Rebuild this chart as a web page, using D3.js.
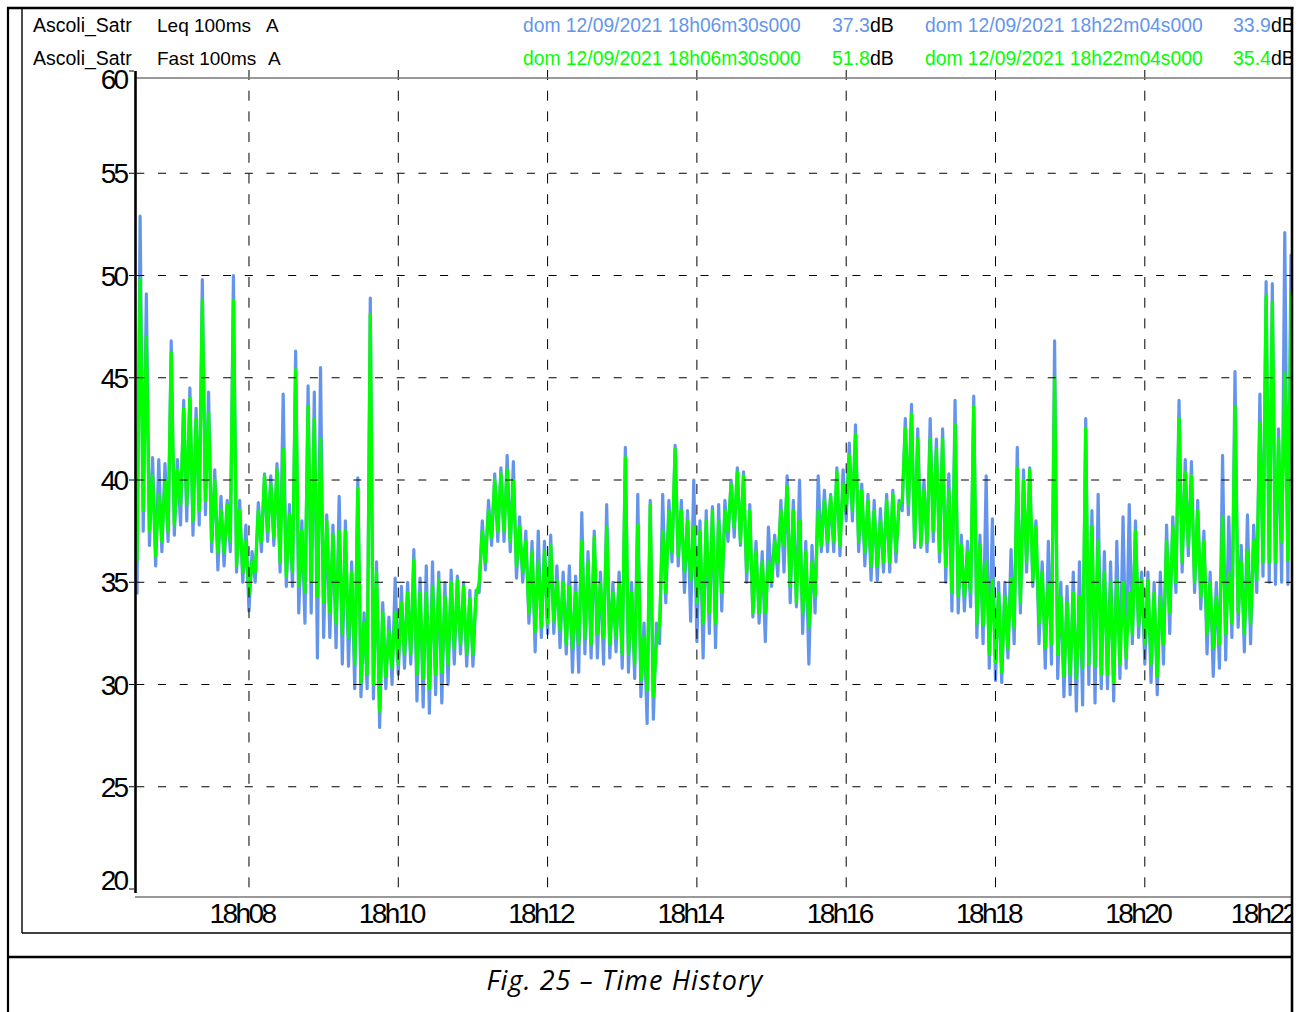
<!DOCTYPE html>
<html>
<head>
<meta charset="utf-8">
<script src="https://cdn.jsdelivr.net/npm/d3@7"></script>
<style>
html, body { margin: 0; padding: 0; background: #fff; }
svg { display: block; }
text { font-family: "Liberation Sans", Arial, sans-serif; }
</style>
</head>
<body>
<div id="chart"></div>
<script>
var width = 1302,
	height = 1012;

// time axis
var startTime = new Date(2021, 8, 12, 18, 6, 30);
var endTime = new Date(2021, 8, 12, 18, 22, 4);
var stepSeconds = 5;
var xTickTimes = ["18:08", "18:10", "18:12", "18:14", "18:16", "18:18", "18:20", "18:22"];
var yTicks = [20, 25, 30, 35, 40, 45, 50, 55, 60];
var yGrid = [25, 30, 35, 40, 45, 50, 55];

// header
var stationName = "Ascoli_Satr";
var seriesNames = ["Leq 100ms", "Fast 100ms"];
var weighting = "A";
var seriesColors = ["#6495ed", "#00ff00"];
var startStamp = "dom 12/09/2021 18h06m30s000";
var endStamp = "dom 12/09/2021 18h22m04s000";
var startValues = ["37.3", "51.8"];
var endValues = ["33.9", "35.4"];
var caption = "Fig. 25 \u2013 Time History";

// envelope of each series per 5 s bin (min, max), dB
var leqLo = [
34.4,37.5,36.8,35.8,36.5,37.0,37.3,37.8,38.0,37.3,
37.8,38.3,36.5,35.6,35.8,36.5,35.5,35.0,33.6,35.0,
36.5,37.0,36.8,35.5,34.8,34.8,33.5,33.0,33.5,31.3,
32.3,32.3,31.8,31.0,30.9,29.8,29.4,29.8,29.3,27.9,
29.8,30.0,30.5,30.8,31.0,29.2,28.9,28.6,29.5,29.1,
30.0,31.0,31.5,30.9,30.9,34.5,35.6,36.8,37.0,37.0,
36.5,35.2,35.0,33.0,31.6,32.3,32.5,32.5,31.8,31.5,
30.6,30.6,31.5,31.3,31.3,31.0,31.3,31.6,30.8,30.6,
30.3,29.4,28.1,28.3,32.0,34.0,36.0,35.8,34.5,33.1,
32.1,31.3,32.5,31.8,33.6,37.0,37.2,36.8,35.0,33.3,
33.0,32.1,34.8,35.3,35.5,34.0,33.8,32.5,31.0,33.5,
36.5,36.5,36.5,36.3,38.0,38.0,36.5,35.8,35.1,35.1,
35.5,35.5,36.0,38.5,38.3,36.7,36.7,36.5,37.0,36.0,
35.0,33.6,33.5,33.6,33.8,32.3,32.0,30.8,30.2,30.1,
31.3,32.0,33.5,35.5,34.8,32.0,30.8,31.0,30.3,29.4,
29.5,28.7,29.0,30.0,29.1,29.8,29.8,29.2,30.3,30.8,
32.0,32.3,31.0,30.1,29.5,31.0,32.5,34.5,35.5,36.3,
34.5,33.7,31.5,30.4,30.8,31.2,32.3,32.8,31.6,32.0,
34.5,35.3,35.0,34.9,35.0,34.9,36.0];
var leqHi = [
52.9,49.1,41.1,41.0,40.8,46.8,41.0,43.9,44.5,43.5,
49.8,44.3,40.5,39.2,39.0,50.0,39.0,37.8,36.5,38.9,
40.3,40.2,40.8,44.2,38.8,46.3,38.0,44.6,44.3,45.5,
38.3,37.8,39.2,38.0,36.0,40.1,33.5,48.9,36.0,34.0,
33.3,35.2,34.8,35.0,36.6,35.2,35.8,36.0,35.5,35.0,
35.6,35.3,35.0,34.6,34.6,38.0,39.0,40.3,40.6,41.2,
40.9,38.2,37.5,37.0,37.5,37.0,37.3,35.8,35.5,35.8,
35.3,38.4,36.5,37.5,35.5,38.8,35.0,35.5,41.6,35.0,
39.3,33.0,39.0,33.0,39.3,39.0,41.7,39.0,38.5,40.0,
38.0,38.5,38.7,38.8,39.0,40.0,40.6,40.4,38.8,37.0,
36.5,37.7,37.3,39.0,40.2,39.0,40.0,37.0,36.8,40.2,
39.5,39.3,40.6,40.5,41.8,42.7,39.8,39.3,39.0,38.6,
39.3,39.5,39.0,43.0,43.7,42.5,40.0,43.0,42.0,42.5,
40.3,43.9,37.3,37.0,44.1,37.3,40.2,38.1,35.0,35.0,
36.6,41.6,40.5,40.6,38.0,36.0,37.0,46.8,35.0,34.8,
35.5,36.0,43.0,38.5,39.3,36.5,36.0,37.0,38.2,38.8,
38.0,35.5,35.5,35.0,35.5,37.8,38.2,43.9,41.0,40.9,
39.0,37.5,35.5,35.0,41.2,38.2,45.3,36.8,38.3,37.8,
44.2,49.7,49.6,42.5,52.1,51.0,47.4];
var fastLo = [
36.0,38.5,37.5,36.3,37.0,37.5,37.8,38.8,38.8,38.0,
38.5,39.0,37.0,36.5,36.5,37.0,35.8,35.5,34.4,35.5,
37.0,37.5,37.2,36.0,35.3,35.5,34.8,34.5,35.0,34.3,
34.0,33.5,33.0,32.5,32.3,31.0,30.1,30.5,30.0,28.7,
30.4,30.8,31.0,31.5,31.5,30.5,30.3,29.8,30.5,30.6,
31.0,31.8,32.0,31.5,31.5,35.0,36.0,37.2,37.5,37.5,
37.0,35.8,35.5,33.5,32.6,32.8,33.0,33.1,32.7,32.0,
31.8,32.0,32.3,32.0,32.5,32.3,32.0,32.3,31.5,31.5,
31.0,30.2,29.7,29.4,33.0,34.5,36.5,36.3,35.5,35.1,
34.0,33.0,33.5,33.0,34.5,37.5,37.7,37.0,35.5,33.5,
33.5,33.5,35.0,36.0,36.8,34.8,34.0,33.5,32.8,34.3,
36.8,37.0,37.0,36.8,38.5,38.5,37.0,36.5,35.8,35.8,
36.0,36.0,36.5,39.0,38.8,37.0,36.8,37.0,37.5,36.5,
35.8,34.5,34.3,34.3,34.5,33.0,32.9,31.5,31.1,30.6,
31.8,32.8,34.0,36.0,35.1,33.0,31.8,32.0,31.5,30.4,
30.5,30.3,30.8,31.0,30.9,30.5,30.5,30.1,31.0,31.3,
32.5,32.9,32.0,31.0,30.4,32.0,33.5,35.0,36.0,36.8,
35.0,34.3,32.5,31.8,32.0,32.5,33.0,33.5,32.5,33.0,
35.1,36.0,36.0,36.0,37.0,36.1,37.0];
var fastHi = [
49.8,47.0,40.2,39.3,40.0,46.2,40.5,43.5,44.0,43.0,
48.8,43.3,40.0,38.5,38.8,48.8,38.5,37.0,36.0,38.5,
40.2,39.8,40.5,41.5,38.3,45.4,37.5,43.6,43.0,42.0,
38.0,37.3,37.5,37.5,35.5,39.6,33.0,48.1,35.5,33.5,
32.6,33.5,34.0,34.5,36.1,34.5,34.5,34.8,35.1,34.3,
35.0,35.1,34.8,34.2,34.3,37.5,38.5,40.0,40.3,40.5,
40.0,37.7,37.0,36.5,36.0,36.5,36.8,35.1,35.0,34.8,
34.5,37.0,36.0,37.2,35.0,37.7,34.5,35.0,41.1,34.5,
37.8,32.3,38.8,32.0,37.5,38.5,41.5,38.5,38.0,37.7,
37.5,38.0,38.5,38.0,38.5,39.8,40.4,40.2,38.5,36.5,
36.0,36.0,37.0,38.5,39.7,38.5,38.0,36.5,36.0,38.5,
39.0,39.2,40.4,39.8,41.2,42.2,39.5,39.0,38.5,38.0,
39.0,39.3,38.8,42.5,43.2,42.0,39.5,42.0,41.5,42.0,
39.5,42.7,36.8,36.5,43.6,36.8,36.0,35.1,34.5,34.3,
35.2,40.6,40.0,40.5,37.7,35.5,35.0,45.0,34.3,34.0,
34.5,34.3,42.5,37.7,37.0,35.5,35.0,35.1,35.0,34.5,
37.5,35.1,35.1,34.5,34.3,37.0,37.7,43.0,40.4,40.2,
38.5,37.0,35.0,34.3,38.2,35.5,43.6,36.0,36.5,37.0,
42.8,49.0,48.7,42.0,45.2,49.1,46.0];

var plotLeft = 137, plotRight = 1292, plotTop = 78, plotBottom = 897;

var svg = d3.select("#chart").append("svg")
	.attr("width", width)
	.attr("height", height);

svg.append("rect")
	.attr("width", width)
	.attr("height", height)
	.attr("fill", "#fff");

var x = d3.scaleTime()
	.domain([startTime, endTime])
	.range([plotLeft, plotLeft + (endTime - startTime) / 1000 * 1.2442]);
var y = d3.scaleLinear()
	.domain([20, 60])
	.range([889, 71]);

var parseHM = d3.timeParse("%Y-%m-%d %H:%M");
var xTicks = xTickTimes.map(function(s) { return parseHM("2021-09-12 " + s); });
var fmt = d3.timeFormat("%Hh%M");

svg.append("clipPath")
	.attr("id", "plotclip")
	.append("rect")
	.attr("x", 136)
	.attr("y", 0)
	.attr("width", plotRight - 136)
	.attr("height", plotBottom);

function envelope(lo, hi) {
	var pts = [];
	for(var i = 0; i < lo.length; i++) {
		var t0 = new Date(startTime.getTime() + i * stepSeconds * 1000);
		var t1 = new Date(t0.getTime() + stepSeconds * 500);
		pts.push([t0, lo[i]]);
		pts.push([t1, hi[i]]);
	}
	return pts;
}

var line = d3.line()
	.x(function(d) { return x(d[0]); })
	.y(function(d) { return y(d[1]); });

var plot = svg.append("g").attr("clip-path", "url(#plotclip)");

plot.append("path")
	.datum(envelope(leqLo, leqHi))
	.attr("d", line)
	.attr("fill", "none")
	.attr("stroke", seriesColors[0])
	.attr("stroke-width", 3.2)
	.attr("stroke-linejoin", "round");

plot.append("path")
	.datum(envelope(fastLo, fastHi))
	.attr("d", line)
	.attr("fill", "none")
	.attr("stroke", seriesColors[1])
	.attr("stroke-width", 3.2)
	.attr("stroke-linejoin", "round");

// grid on top of the traces
var grid = svg.append("g").attr("clip-path", "url(#plotclip)");
grid.selectAll(".hgrid")
	.data(yGrid)
	.enter().append("line")
	.attr("class", "hgrid")
	.attr("x1", 136)
	.attr("x2", plotRight)
	.attr("y1", function(d) { return y(d); })
	.attr("y2", function(d) { return y(d); })
	.attr("stroke", "#000")
	.attr("stroke-width", 1)
	.attr("stroke-dasharray", "8,13.7")
	.attr("stroke-dashoffset", -0.3);

grid.selectAll(".vgrid")
	.data(xTicks)
	.enter().append("line")
	.attr("class", "vgrid")
	.attr("x1", function(d) { return x(d); })
	.attr("x2", function(d) { return x(d); })
	.attr("y1", y(60) - 1)
	.attr("y2", plotBottom)
	.attr("stroke", "#000")
	.attr("stroke-width", 1)
	.attr("stroke-dasharray", "10,10.7");

// frame lines of the plot
svg.append("line")
	.attr("x1", 136).attr("x2", plotRight)
	.attr("y1", plotTop).attr("y2", plotTop)
	.attr("stroke", "#777").attr("stroke-width", 1.3);
svg.append("line")
	.attr("x1", 135).attr("x2", plotRight)
	.attr("y1", plotBottom).attr("y2", plotBottom)
	.attr("stroke", "#777").attr("stroke-width", 1.5);
svg.append("line")
	.attr("x1", 135.5).attr("x2", 135.5)
	.attr("y1", y(60)).attr("y2", 893)
	.attr("stroke", "#000").attr("stroke-width", 2.6);

// y axis
svg.selectAll(".ytick")
	.data(yTicks)
	.enter().append("line")
	.attr("class", "ytick")
	.attr("x1", 129).attr("x2", 134)
	.attr("y1", function(d) { return y(d); })
	.attr("y2", function(d) { return y(d); })
	.attr("stroke", "#000")
	.attr("stroke-width", 1);

svg.selectAll(".ylabel")
	.data(yTicks)
	.enter().append("text")
	.attr("class", "ylabel")
	.attr("x", 126)
	.attr("y", function(d) {
		var shift = d == 60 ? 8 : (d == 20 ? -9 : 0);
		return y(d) + shift;
	})
	.attr("dy", "0.36em")
	.attr("text-anchor", "end")
	.style("font-size", "28px")
	.style("letter-spacing", "-3px")
	.attr("fill", "#000")
	.text(function(d) { return d; });

// x axis labels, the last one is pulled in to stay inside the frame
svg.selectAll(".xlabel")
	.data(xTicks)
	.enter().append("text")
	.attr("class", "xlabel")
	.attr("x", function(d, i) { return x(d) - (i == xTicks.length - 1 ? 31 : 7); })
	.attr("y", 923)
	.attr("text-anchor", "middle")
	.style("font-size", "28px")
	.style("letter-spacing", "-2.6px")
	.attr("fill", "#000")
	.text(function(d) { return fmt(d); });

// header rows
var rowY = [32, 65];
for(var i = 0; i < seriesNames.length; i++) {
	svg.append("text")
		.attr("x", 33).attr("y", rowY[i])
		.style("font-size", "19.5px").attr("fill", "#000")
		.text(stationName);
	svg.append("text")
		.attr("x", 157).attr("y", rowY[i])
		.style("font-size", "19px").attr("fill", "#000")
		.text(seriesNames[i]);
	svg.append("text")
		.attr("x", i == 0 ? 266 : 268).attr("y", rowY[i])
		.style("font-size", "19px").attr("fill", "#000")
		.text(weighting);
	svg.append("text")
		.attr("x", 523).attr("y", rowY[i])
		.style("font-size", "19.3px").attr("fill", seriesColors[i])
		.text(startStamp);
	var v1 = svg.append("text")
		.attr("x", 832).attr("y", rowY[i])
		.style("font-size", "19.5px");
	v1.append("tspan").attr("fill", seriesColors[i]).text(startValues[i]);
	v1.append("tspan").attr("fill", "#000").text("dB");
	svg.append("text")
		.attr("x", 925).attr("y", rowY[i])
		.style("font-size", "19.3px").attr("fill", seriesColors[i])
		.text(endStamp);
	var v2 = svg.append("text")
		.attr("x", 1233).attr("y", rowY[i])
		.style("font-size", "19.5px");
	v2.append("tspan").attr("fill", seriesColors[i]).text(endValues[i]);
	v2.append("tspan").attr("fill", "#000").text("dB");
}

// caption
svg.append("text")
	.attr("x", 625)
	.attr("y", 990)
	.attr("text-anchor", "middle")
	.style("font-family", "'Open Sans', sans-serif")
	.style("font-style", "italic")
	.style("font-size", "27px")
	.style("letter-spacing", "1.1px")
	.attr("fill", "#000")
	.text(caption);

// right margin is cut off by the page frame
svg.append("rect")
	.attr("x", 1293).attr("y", 0)
	.attr("width", width - 1293).attr("height", height)
	.attr("fill", "#fff");

// page frames
var frame = svg.append("g").attr("stroke", "#000").attr("fill", "none");
frame.append("line").attr("x1", 7).attr("x2", 1293.5).attr("y1", 8).attr("y2", 8).attr("stroke-width", 2.6);
frame.append("line").attr("x1", 8).attr("x2", 8).attr("y1", 7).attr("y2", height).attr("stroke-width", 2.2);
frame.append("line").attr("x1", 1292).attr("x2", 1292).attr("y1", 7).attr("y2", height).attr("stroke-width", 2.6);
frame.append("line").attr("x1", 22).attr("x2", 22).attr("y1", 8).attr("y2", 933).attr("stroke-width", 1.4);
frame.append("line").attr("x1", 22).attr("x2", 1292).attr("y1", 933).attr("y2", 933).attr("stroke-width", 1.5);
frame.append("line").attr("x1", 8).attr("x2", 1292).attr("y1", 957).attr("y2", 957).attr("stroke-width", 2.4);
</script>
</body>
</html>
